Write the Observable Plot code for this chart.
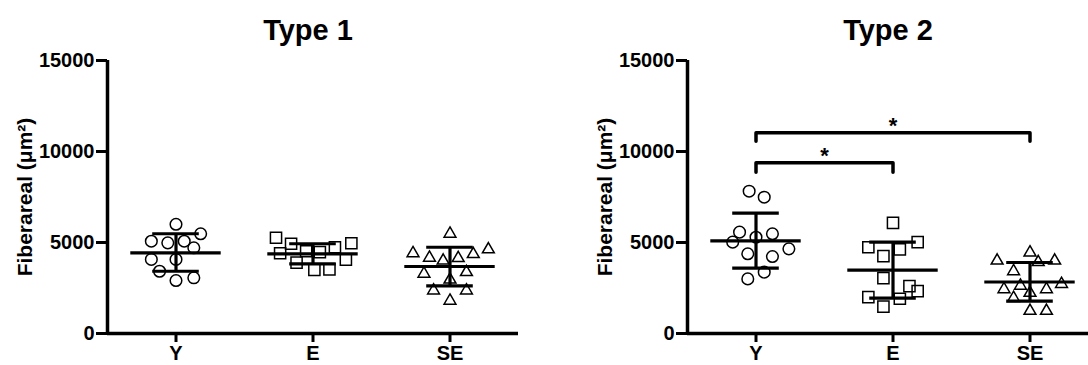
<!DOCTYPE html>
<html><head><meta charset="utf-8">
<script src="https://cdn.jsdelivr.net/npm/d3@7"></script>
<script src="https://cdn.jsdelivr.net/npm/@observablehq/plot@0.6"></script>
<style>
html,body{margin:0;padding:0;background:#fff;overflow:hidden}
#wrap{position:relative;width:1088px;height:365px;overflow:hidden}
#p1,#p2{position:absolute;top:0}
#p1{left:0;width:544px}#p2{left:544px;width:560px}
svg{max-width:none !important}
</style></head><body><div id="wrap"><div id="p1"></div><div id="p2"></div></div>
<script>
// ---- data ----
const groups = ["Y", "E", "SE"];
const yTicks = [0, 5000, 10000, 15000];
const titles = ["Type 1", "Type 2"];
const yLabel = "Fiberareal (μm²)";

// Type 1 individual values and horizontal scatter (in category units)
const t1Y = [6000, 5480, 5070, 4980, 5070, 4710, 4070, 4070, 3420, 2910, 3060];
const t1YSpread = [0, 0.18, -0.18, -0.06, 0.06, 0.13, -0.18, 0, -0.12, 0, 0.13];
const t1E = [5260, 4930, 4410, 4520, 4470, 4740, 4960, 3890, 3500, 3520, 4050];
const t1ESpread = [-0.27, -0.16, -0.24, -0.05, 0.05, 0.16, 0.28, -0.12, 0.01, 0.12, 0.24];
const t1SE = [5480, 4410, 4160, 4000, 4140, 4360, 4620, 3280, 2960, 3370, 2360, 2360, 1800];
const t1SESpread = [0, -0.27, -0.15, -0.05, 0.06, 0.17, 0.28, -0.19, 0, 0.12, -0.12, 0.12, 0];
const t1Mean = [4430, 4380, 3680];
const t1Lo = [3420, 3830, 2620];
const t1Hi = [5480, 4930, 4740];

// Type 2
const t2Y = [7820, 7490, 5570, 5480, 5020, 5290, 4650, 4380, 4230, 3000, 3370];
const t2YSpread = [-0.05, 0.06, -0.12, 0.12, -0.17, 0, 0.24, -0.06, 0.12, -0.06, 0.06];
const t2E = [6080, 4740, 4250, 4620, 5020, 3040, 2600, 2330, 2000, 1910, 1480];
const t2ESpread = [0, -0.18, -0.07, 0.05, 0.18, -0.07, 0.12, 0.18, -0.18, 0.05, -0.07];
const t2SE = [4450, 4000, 3920, 4000, 3420, 2430, 2620, 2230, 2430, 2720, 1950, 1240, 1240];
const t2SESpread = [0, -0.24, 0.06, 0.18, -0.12, -0.19, -0.07, 0, 0.12, 0.23, -0.12, 0, 0.12];
const t2Mean = [5090, 3480, 2830];
const t2Lo = [3590, 1940, 1780];
const t2Hi = [6610, 5020, 3900];

// significance brackets (Type 2)
const bracketFrom = ["Y", "Y"];
const bracketTo = ["SE", "E"];
const bracketY = [11030, 9380];
const bracketTip = [10570, 8860];
const bracketLabel = ["*", "*"];

// ---- build ----
const FONT = "'Liberation Sans', Arial, Helvetica, sans-serif";
const symbols = {Y: "circle", E: "square", SE: "triangle"};
const radius = {Y: 5.8, E: 6.3, SE: 4.4};

function points(vals, spreads) {
  return groups.flatMap((g, i) => vals[i].map((v, k) => ({g, x: i + spreads[i][k], v})));
}
function stats(mean, lo, hi) {
  return groups.map((g, i) => ({g, i, mean: mean[i], lo: lo[i], hi: hi[i]}));
}

function panel({title, pts, st, brackets, width, marginLeft, marginRight}) {
  const marks = [
    Plot.ruleY([0], {strokeWidth: 3.5}),
    Plot.ruleX([-0.5], {strokeWidth: 3.5}),
    Plot.axisY({ticks: yTicks, tickFormat: d => String(d), tickSize: 11, tickPadding: 2, strokeWidth: 3, fontSize: 20, fontWeight: "bold", label: null}),
    Plot.axisX({ticks: [0, 1, 2], tickFormat: i => groups[i], tickSize: 9, tickPadding: 3, strokeWidth: 3, fontSize: 20, fontWeight: "bold", label: null}),
    Plot.text([yLabel], {frameAnchor: "left", dx: -82, rotate: -90, textAnchor: "middle", lineAnchor: "middle", fontSize: 21, fontWeight: "bold", fill: "black"}),
    Plot.text([title], {frameAnchor: "top", textAnchor: "middle", dx: -5, dy: -21, lineAnchor: "bottom", fontSize: 29, fontWeight: "bold", fill: "black"}),
    ...groups.map(g => Plot.dot(pts.filter(d => d.g === g), {x: "x", y: "v", symbol: symbols[g], r: radius[g], stroke: "black", strokeWidth: 1.5, fill: "none"})),
    Plot.ruleY(st, {y: "mean", x1: d => d.i - 0.33, x2: d => d.i + 0.33, strokeWidth: 3.2}),
    Plot.ruleY(st, {y: "lo", x1: d => d.i - 0.17, x2: d => d.i + 0.17, strokeWidth: 3.2}),
    Plot.ruleY(st, {y: "hi", x1: d => d.i - 0.17, x2: d => d.i + 0.17, strokeWidth: 3.2}),
    Plot.ruleX(st, {x: "i", y1: "lo", y2: "hi", strokeWidth: 3.2})
  ];
  if (brackets) {
    const lines = brackets.flatMap((b, k) => {
      const a = groups.indexOf(b.from), c = groups.indexOf(b.to);
      return [
        {k, x: a, y: b.tip}, {k, x: a, y: b.y}, {k, x: c, y: b.y}, {k, x: c, y: b.tip}
      ];
    });
    marks.push(Plot.line(lines, {x: "x", y: "y", z: "k", stroke: "black", strokeWidth: 3.5, strokeLinejoin: "round", strokeLinecap: "round", curve: "linear"}));
    marks.push(Plot.text(brackets, {
      x: b => (groups.indexOf(b.from) + groups.indexOf(b.to)) / 2,
      y: "y", text: "label", lineAnchor: "bottom", dy: 0, fontSize: 22, fontWeight: "bold", fill: "black"
    }));
  }
  return Plot.plot({
    width, height: 365,
    marginLeft, marginRight, marginTop: 60, marginBottom: 32,
    style: {fontFamily: FONT, fontSize: "20px", fontWeight: "bold", color: "black", background: "white", overflow: "visible", maxWidth: "none"},
    x: {domain: [-0.5, 2.5]},
    y: {domain: [0, 15000]},
    marks
  });
}

const brackets2 = bracketFrom.map((f, k) => ({from: f, to: bracketTo[k], y: bracketY[k], tip: bracketTip[k], label: bracketLabel[k]}));

document.getElementById("p1").append(panel({
  title: titles[0],
  pts: points([t1Y, t1E, t1SE], [t1YSpread, t1ESpread, t1SESpread]),
  st: stats(t1Mean, t1Lo, t1Hi),
  width: 544, marginLeft: 107, marginRight: 26
}));
document.getElementById("p2").append(panel({
  title: titles[1],
  pts: points([t2Y, t2E, t2SE], [t2YSpread, t2ESpread, t2SESpread]),
  st: stats(t2Mean, t2Lo, t2Hi),
  brackets: brackets2,
  width: 560, marginLeft: 143, marginRight: 6
}));
</script></body></html>
